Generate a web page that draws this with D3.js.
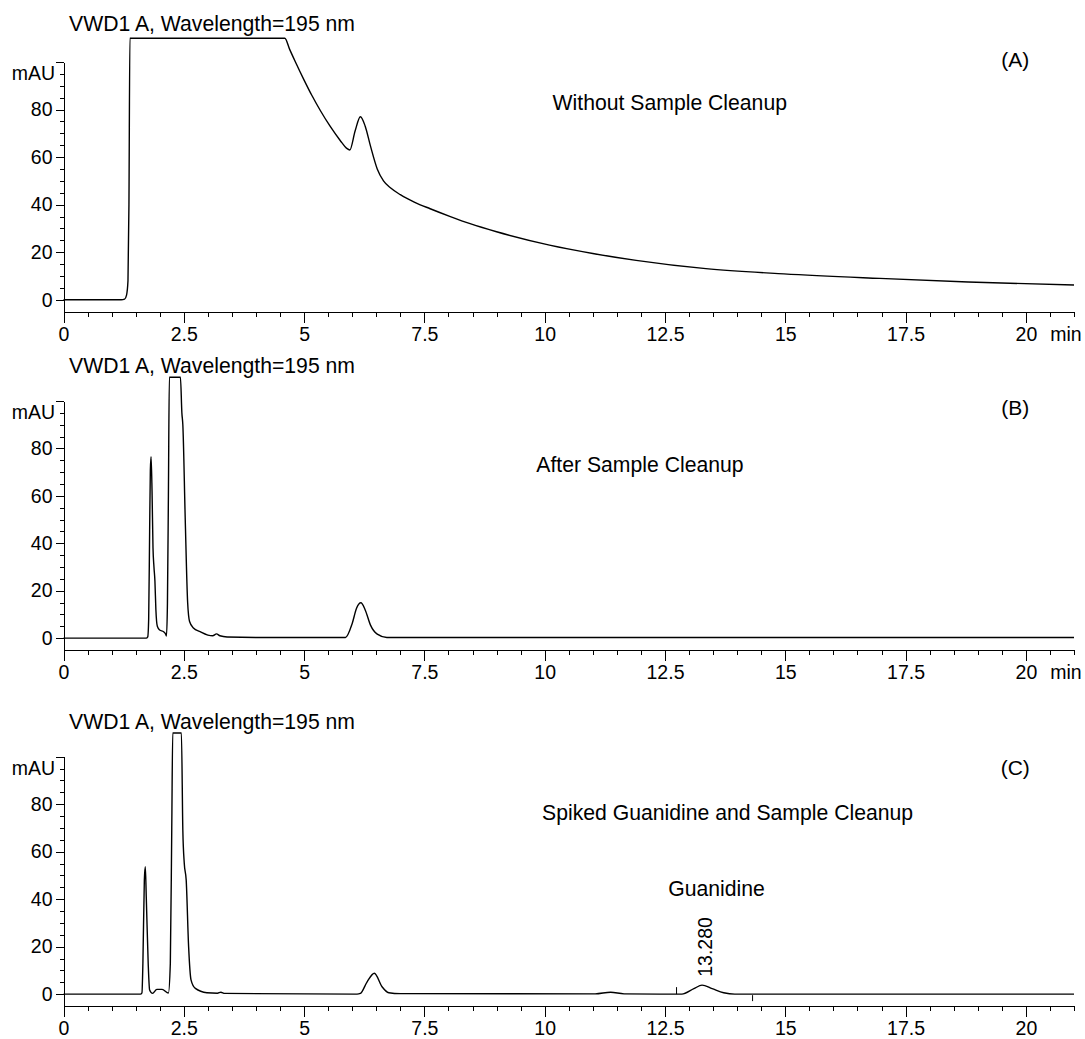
<!DOCTYPE html>
<html lang="en">
<head>
  <meta charset="UTF-8">
  <title>VWD1 A chromatograms</title>
  <style>
    body { margin: 0; background: #fff; }
    svg { display: block; font-family: "Liberation Sans", Arial, sans-serif; }
    .axis path, .axis line { stroke: #000; stroke-width: 1px; shape-rendering: crispEdges; }
    .axis text { fill: #000; }
    .trace { fill: none; stroke: #000; stroke-width: 1.4px; }
  </style>
</head>
<body>
  <div id="chart"></div>

  <script src="https://d3js.org/d3.v7.min.js"></script>
  <script>
    const width = 1085, height = 1039;

    // traces: [time (min), signal (mAU)], detector clips at 110
    const traceA = [
      [0, 0], [1.2, 0], [1.27, 0.3], [1.31, 2], [1.34, 8], [1.36, 40], [1.38, 110],
      [4.6, 110], [4.7, 105.3], [4.82, 100], [5.0, 92.4], [5.16, 86], [5.34, 79.5],
      [5.54, 73], [5.75, 67], [5.88, 63.8], [5.95, 63], [6.06, 71], [6.17, 77], [6.27, 73],
      [6.38, 64.6], [6.52, 55], [6.65, 50], [6.8, 47], [7.0, 44.2], [7.3, 41],
      [7.62, 38.3], [8.04, 35], [8.45, 32], [9.0, 28.6], [10.1, 23], [11.0, 19.5],
      [11.9, 16.6], [13.35, 13.1], [14.97, 10.9], [16.96, 9], [18.8, 7.5], [21, 6.2]
    ];

    const traceB = [
      [0, 0], [1.72, 0], [1.75, 0.5], [1.77, 8], [1.79, 45], [1.805, 70.9], [1.82, 76.5],
      [1.84, 62], [1.86, 38], [1.88, 30], [1.9, 24], [1.92, 12], [1.95, 5], [2.0, 3.4],
      [2.08, 2.7], [2.12, 1.8], [2.14, 0.9], [2.16, 14.7], [2.18, 60], [2.2, 110],
      [2.43, 110], [2.46, 95], [2.48, 90], [2.53, 50], [2.58, 15], [2.62, 7], [2.7, 4.3],
      [2.84, 2.7], [3.0, 1.3], [3.1, 1.0], [3.18, 1.8], [3.25, 1.0], [3.4, 0.5], [4.0, 0.3],
      [5.86, 0.3], [6.0, 6.2], [6.09, 12.6], [6.18, 14.9], [6.27, 11.9], [6.38, 5.5],
      [6.52, 1.7], [6.72, 0.3], [21, 0.3]
    ];

    const traceC = [
      [0, 0], [1.6, 0], [1.63, 0.5], [1.65, 13], [1.68, 48], [1.7, 53.7], [1.72, 41],
      [1.76, 13], [1.79, 1.7], [1.85, 0.3], [1.94, 2], [2.05, 2], [2.18, 0.5], [2.22, 13],
      [2.25, 70], [2.27, 110], [2.45, 110], [2.48, 69], [2.51, 55], [2.55, 48], [2.6, 20],
      [2.65, 6], [2.74, 2.4], [2.98, 0.6], [3.2, 0.4], [3.27, 0.8], [3.35, 0.3], [6.1, 0],
      [6.17, 0.3], [6.31, 5.2], [6.46, 8.8], [6.62, 3.1], [6.76, 0.6], [7.0, 0.2],
      [11.05, 0.1], [11.37, 0.8], [11.65, 0.1], [12.85, 0], [13.1, 2.3], [13.27, 3.8],
      [13.48, 2.3], [13.72, 0.6], [13.95, 0], [21, 0]
    ];

    const xMajor = [0, 2.5, 5, 7.5, 10, 12.5, 15, 17.5, 20];
    const yLabels = [0, 20, 40, 60, 80];
    const titleText = "VWD1 A, Wavelength=195 nm";

    // annotation texts placed in data coordinates [time, mAU]
    const notesA = [["Without Sample Cleanup", 12.6, 83]];
    const notesB = [["After Sample Cleanup", 11.98, 73.4]];
    const notesC = [["Spiked Guanidine and Sample Cleanup", 13.8, 76.3], ["Guanidine", 13.57, 44.3]];
    const peakLabelsC = [["13.280", 13.33, 7.3]];
    const integrationC = [12.74, 14.32];

    // layout of the three stacked panels
    const panels = [
      { trace: traceA, top: 62, bottom: 311.7, titleY: 31, tag: "(A)", tagV: 101, notes: notesA, unit: true },
      { trace: traceB, top: 401, bottom: 650, titleY: 373, tag: "(B)", tagV: 97, notes: notesB, unit: true },
      { trace: traceC, top: 756.7, bottom: 1006, titleY: 729, tag: "(C)", tagV: 95.2, notes: notesC, unit: false,
        peaks: peakLabelsC, marks: integrationC }
    ];

    const svg = d3.select("#chart").append("svg")
      .attr("width", width).attr("height", height);

    const x = d3.scaleLinear().domain([0, 21]).range([63.5, 1074]);

    panels.forEach(p => {
      const y = d3.scaleLinear().domain([-5, 100]).range([p.bottom, p.top]);
      const g = svg.append("g");

      // x axis: minor ticks then labelled major ticks
      g.append("g").attr("class", "axis")
        .attr("transform", `translate(0,${p.bottom})`)
        .call(d3.axisBottom(x).tickValues(d3.range(0, 21.01, 0.5)).tickSize(5).tickFormat(""))
        .call(a => a.select(".domain").remove());
      const xa = g.append("g").attr("class", "axis")
        .attr("transform", `translate(0,${p.bottom})`)
        .call(d3.axisBottom(x).tickValues(xMajor).tickSize(11).tickPadding(4).tickSizeOuter(0)
          .tickFormat(d => String(d)));
      xa.selectAll("text").attr("font-size", 19.5).attr("font-family", "Liberation Sans, Arial");
      if (p.unit) {
        xa.append("text").attr("x", 1066).attr("y", 15).attr("dy", "0.71em")
          .attr("text-anchor", "middle").attr("font-size", 19.5).text("min");
      }

      // y axis
      g.append("g").attr("class", "axis")
        .attr("transform", `translate(${x(0)},0)`)
        .call(d3.axisLeft(y).tickValues(d3.range(0, 100.1, 5)).tickSize(4).tickFormat(""))
        .call(a => a.select(".domain").remove());
      const ya = g.append("g").attr("class", "axis")
        .attr("transform", `translate(${x(0)},0)`)
        .call(d3.axisLeft(y).tickValues([...yLabels, 100]).tickSize(8).tickPadding(3).tickSizeOuter(0)
          .tickFormat(d => d === 100 ? "" : String(d)));
      ya.selectAll("text").attr("font-size", 19.5).attr("font-family", "Liberation Sans, Arial");
      g.append("text").attr("x", 55).attr("y", y(100) + 18)
        .attr("text-anchor", "end").attr("font-size", 19.5).text("mAU");

      // title
      g.append("text").attr("x", 69).attr("y", p.titleY)
        .attr("font-size", 21.2).text(titleText);

      // trace
      g.append("path").datum(p.trace).attr("class", "trace")
        .attr("d", d3.line().x(d => x(d[0])).y(d => y(d[1])).curve(d3.curveMonotoneX));

      // panel tag and notes
      g.append("text").attr("x", x(19.78)).attr("y", y(p.tagV))
        .attr("text-anchor", "middle").attr("dy", "0.35em").attr("font-size", 21).text(p.tag);
      p.notes.forEach(n => {
        g.append("text").attr("x", x(n[1])).attr("y", y(n[2]))
          .attr("text-anchor", "middle").attr("dy", "0.35em").attr("font-size", 21.2).text(n[0]);
      });

      if (p.peaks) {
        p.peaks.forEach(n => {
          g.append("text")
            .attr("transform", `translate(${x(n[1])},${y(n[2])}) rotate(-90)`)
            .attr("dy", "0.35em").attr("font-size", 19.5).text(n[0]);
        });
      }
      if (p.marks) {
        g.append("line").attr("x1", x(p.marks[0])).attr("x2", x(p.marks[0]))
          .attr("y1", y(0)).attr("y2", y(0) - 7).attr("stroke", "#000");
        g.append("line").attr("x1", x(p.marks[1])).attr("x2", x(p.marks[1]))
          .attr("y1", y(0) + 1).attr("y2", y(0) + 7).attr("stroke", "#000");
      }
    });
  </script>
</body>
</html>
